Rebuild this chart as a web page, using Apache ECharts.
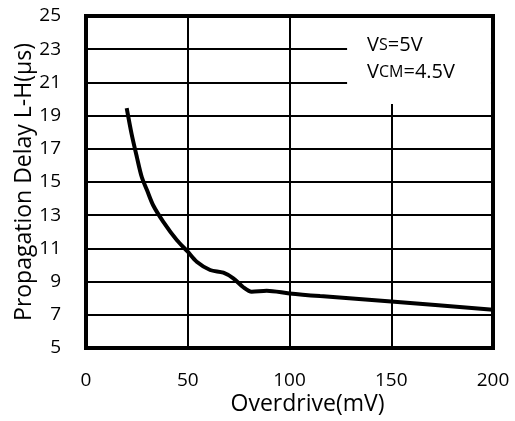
<!DOCTYPE html>
<html><head><meta charset="utf-8">
<script src="https://cdn.jsdelivr.net/npm/echarts@6/dist/echarts.min.js"></script>
<style>html,body{margin:0;padding:0;background:#fff}#c{width:515px;height:421px}</style>
</head><body><div id="c"></div>
<script>
var overdrive = [20, 22.4, 25, 27.4, 30, 33, 38, 44.6, 50, 54.4, 61, 67.5, 72.4, 77.3, 81.4, 88.8, 100, 115, 150, 200];
var delay = [19.45, 17.9, 16.5, 15.3, 14.5, 13.6, 12.6, 11.5, 10.8, 10.2, 9.7, 9.54, 9.2, 8.66, 8.39, 8.45, 8.29, 8.13, 7.8, 7.3];
var xTicks = [0, 50, 100, 150, 200];
var yTicks = [5, 7, 9, 11, 13, 15, 17, 19, 21, 23, 25];
var noteBox = [[128.3, 19.7], [199, 24.88]];

var FONT = 'Open Sans';
var chart = echarts.init(document.getElementById('c'), null, {renderer: 'canvas'});
chart.setOption({
  animation: false,
  backgroundColor: '#fff',
  grid: {left: 86, top: 16, right: 22, bottom: 73, outerBoundsMode: 'none', containLabel: false, show: true, borderColor: '#000', borderWidth: 4, backgroundColor: 'transparent'},
  xAxis: {
    type: 'value', min: xTicks[0], max: xTicks[xTicks.length - 1], interval: 50,
    name: 'Overdrive(mV)', nameLocation: 'middle', nameGap: 45, nameMoveOverlap: false,
    nameTextStyle: {fontFamily: FONT, fontSize: 23, color: '#000', padding: [0, 0, 0, 36]},
    axisLine: {show: false}, axisTick: {show: false},
    axisLabel: {fontFamily: FONT, fontSize: 19, color: '#000', margin: 23},
    splitLine: {show: true, lineStyle: {color: '#000', width: 2}}
  },
  yAxis: {
    type: 'value', min: yTicks[0], max: yTicks[yTicks.length - 1], interval: 2,
    name: 'Propagation Delay L-H(μs)', nameLocation: 'middle', nameGap: 50, nameMoveOverlap: false,
    nameTextStyle: {fontFamily: FONT, fontSize: 23, color: '#000'},
    axisLine: {show: false}, axisTick: {show: false},
    axisLabel: {fontFamily: FONT, fontSize: 19, color: '#000', margin: 25},
    splitLine: {show: true, lineStyle: {color: '#000', width: 2}}
  },
  series: [{
    type: 'line',
    data: overdrive.map(function (x, i) { return [x, delay[i]]; }),
    smooth: 0.3, symbol: 'none',
    lineStyle: {color: '#000', width: 4},
    markArea: {
      silent: true,
      itemStyle: {color: '#fff'},
      label: {
        show: true, position: 'insideTopLeft', distance: 0,
        padding: [14, 0, 0, 20],
        formatter: '{a|V}{b|S}{a|=5V}\n{a|V}{b|CM}{a|=4.5V}',
        rich: {
          a: {fontFamily: FONT, fontSize: 20, color: '#000', lineHeight: 27},
          b: {fontFamily: FONT, fontSize: 16, color: '#000', lineHeight: 27}
        }
      },
      data: [[{coord: noteBox[0]}, {coord: noteBox[1]}]]
    }
  }]
});
</script></body></html>
